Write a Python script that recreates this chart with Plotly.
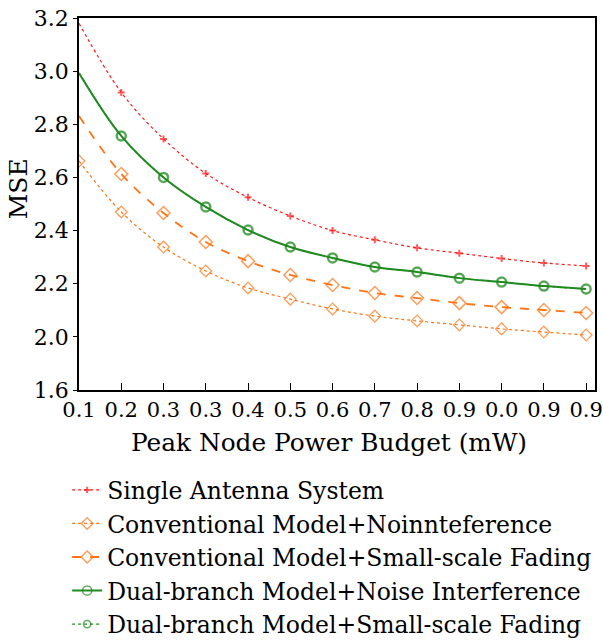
import plotly.graph_objects as go

x_idx = list(range(13))
x_ticklabels = ["0.1", "0.2", "0.3", "0.3", "0.4", "0.5", "0.6", "0.7", "0.8", "0.9", "0.0", "0.9", "0.9"]
y_tickvals = [1.8, 2.0, 2.2, 2.4, 2.6, 2.8, 3.0, 3.2]
y_ticklabels = ["1.6", "2.0", "2.2", "2.4", "2.6", "2.8", "3.0", "3.2"]

single_antenna = [3.18, 2.92, 2.745, 2.615, 2.525, 2.455, 2.40, 2.365, 2.335, 2.315, 2.295, 2.278, 2.267]
conv_nointerf = [2.662, 2.47, 2.338, 2.248, 2.184, 2.142, 2.105, 2.078, 2.06, 2.045, 2.03, 2.018, 2.007]
conv_fading = [2.831, 2.613, 2.466, 2.357, 2.285, 2.233, 2.195, 2.165, 2.146, 2.127, 2.112, 2.101, 2.09]
dual_noise = [2.993, 2.756, 2.60, 2.489, 2.402, 2.338, 2.297, 2.263, 2.244, 2.221, 2.206, 2.191, 2.18]
dual_fading = [2.993, 2.756, 2.60, 2.489, 2.402, 2.338, 2.297, 2.263, 2.244, 2.221, 2.206, 2.191, 2.18]

RED = "#ff1a1a"
ORANGE = "#ff7414"
GREEN = "#1f8a1f"
FONT = "DejaVu Serif"

def msize(s, first=False):
    return [s if first else 0] + [s] * 12

fig = go.Figure()
fig.add_trace(go.Scatter(
    x=x_idx, y=dual_fading, name="Dual-branch Model+Small-scale Fading",
    mode="lines+markers", line=dict(color=GREEN, width=1.2, dash="dot", shape="spline"),
    marker=dict(symbol="circle-open", size=msize(8), color=GREEN, line=dict(width=1.5)),
    legendrank=5))
fig.add_trace(go.Scatter(
    x=x_idx, y=single_antenna, name="Single Antenna System",
    mode="lines+markers", line=dict(color=RED, width=1.2, dash="dot", shape="spline"),
    marker=dict(symbol="cross-thin-open", size=msize(5), color=RED, line=dict(width=2, color=RED)),
    legendrank=1))
fig.add_trace(go.Scatter(
    x=x_idx, y=conv_nointerf, name="Conventional Model+Noinnteference",
    mode="lines+markers", line=dict(color=ORANGE, width=1.2, dash="dot", shape="spline"),
    marker=dict(symbol="diamond-open", size=msize(9, True), color=ORANGE, line=dict(width=1.3)),
    legendrank=2))
fig.add_trace(go.Scatter(
    x=x_idx, y=conv_fading, name="Conventional Model+Small-scale Fading",
    mode="lines+markers", line=dict(color=ORANGE, width=1.8, dash="dash", shape="spline"),
    marker=dict(symbol="diamond-open", size=msize(10), color=ORANGE, line=dict(width=1.5)),
    legendrank=3))
fig.add_trace(go.Scatter(
    x=x_idx, y=dual_noise, name="Dual-branch Model+Noise Interference",
    mode="lines+markers", line=dict(color=GREEN, width=2, shape="spline"),
    marker=dict(symbol="circle-open", size=msize(10), color=GREEN, line=dict(width=1.5)),
    legendrank=4))

fig.update_layout(
    width=603, height=643,
    margin=dict(l=79, r=8, t=18, b=253, autoexpand=False),
    paper_bgcolor="white", plot_bgcolor="white",
    font=dict(family=FONT, size=20, color="black"),
    showlegend=True,
    legend=dict(
        x=-0.023, y=-0.21,
        xanchor="left", yanchor="top",
        font=dict(family=FONT, size=23.5, color="black"),
        itemwidth=30, bgcolor="rgba(0,0,0,0)",
    ),
    annotations=[
        dict(text="MSE", textangle=-90, xref="paper", yref="paper",
             x=-0.118, y=0.54, xanchor="center", yanchor="middle", showarrow=False,
             font=dict(family=FONT, size=25, color="black")),
        dict(text="Peak Node Power Budget (mW)", xref="paper", yref="paper",
             x=0.4845, y=-0.14, xanchor="center", yanchor="middle", showarrow=False,
             font=dict(family=FONT, size=24.8, color="black")),
    ],
)
fig.update_xaxes(
    range=[0, 12.21], tickmode="array", tickvals=x_idx, ticktext=x_ticklabels,
    ticks="inside", ticklen=7, tickcolor="black", tickwidth=1,
    showline=True, linecolor="black", linewidth=1.5, mirror=True,
    showgrid=False, zeroline=False, tickangle=0, ticklabeloverflow="allow",
    tickfont=dict(family=FONT, size=21),
)
fig.update_yaxes(
    range=[1.8, 3.2], tickmode="array", tickvals=y_tickvals, ticktext=y_ticklabels,
    ticks="outside", ticklen=4, tickcolor="black", tickwidth=1,
    showline=True, linecolor="black", linewidth=1.5, mirror=True,
    showgrid=False, zeroline=False, ticklabeloverflow="allow",
    tickfont=dict(family=FONT, size=22),
)

fig.write_html(
    "out.html",
    config={"displayModeBar": False},
    post_script="document.body.style.margin='0';document.body.style.overflow='hidden';",
)
